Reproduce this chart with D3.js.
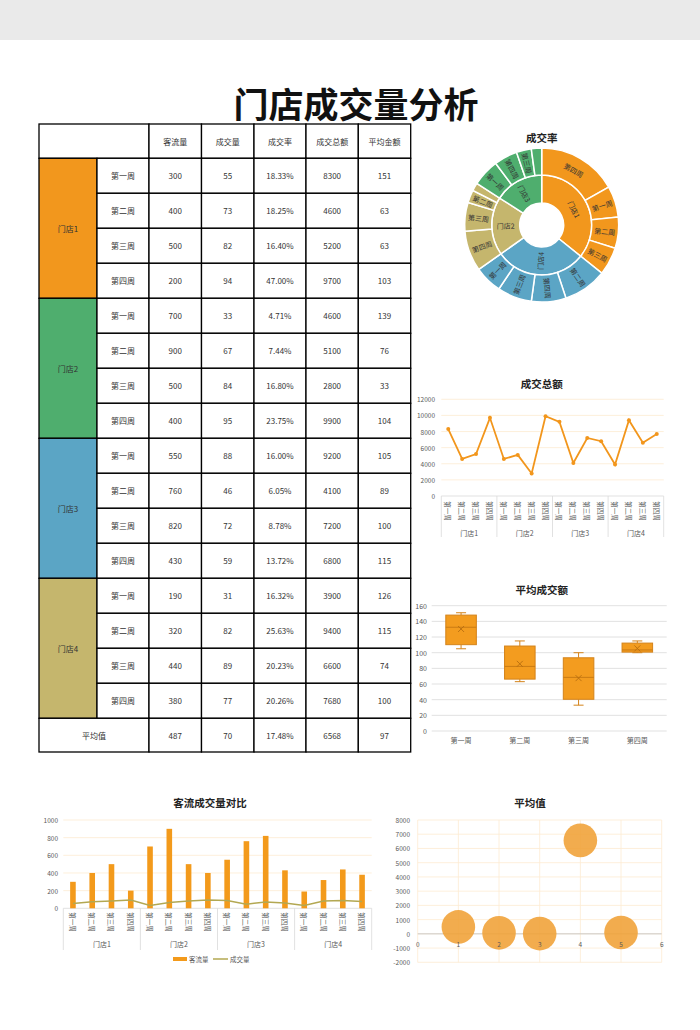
<!DOCTYPE html>
<html><head><meta charset="utf-8">
<script src="https://cdn.jsdelivr.net/npm/d3@7"></script>
<style>
body{margin:0;background:#fff;}
svg{display:block;font-family:"Noto Sans CJK SC","Noto Sans",sans-serif;}
</style></head><body>
<svg id="c" width="700" height="1030"></svg>
<script>
// ---------- DATA ----------
const pageTitle = "门店成交量分析";
const stores = ["门店1","门店2","门店3","门店4"];
const weeks = ["第一周","第二周","第三周","第四周"];
const headers = ["客流量","成交量","成交率","成交总额","平均金额"];
const traffic = [300,400,500,200,700,900,500,400,550,760,820,430,190,320,440,380];
const deals = [55,73,82,94,33,67,84,95,88,46,72,59,31,82,89,77];
const rates = [18.33,18.25,16.40,47.00,4.71,7.44,16.80,23.75,16.00,6.05,8.78,13.72,16.32,25.63,20.23,20.26];
const totals = [8300,4600,5200,9700,4600,5100,2800,9900,9200,4100,7200,6800,3900,9400,6600,7680];
const avgAmount = [151,63,63,103,139,76,33,104,105,89,100,115,126,115,74,100];
const avgLabel = "平均值";
const averages = [487,70,17.48,6568,97];
const bubbleX = [1,2,3,4,5];
const bubbleSize = [1,1,1,1,1];
const titles = {sun:"成交率", line:"成交总额", box:"平均成交额", bar:"客流成交量对比", bubble:"平均值"};
const legendNames = ["客流量","成交量"];
const lineTicks = [0,2000,4000,6000,8000,10000,12000];
const boxTicks = [0,20,40,60,80,100,120,140,160];
const barTicks = [0,200,400,600,800,1000];
const bubbleYTicks = [-2000,-1000,0,1000,2000,3000,4000,5000,6000,7000,8000];
const bubbleXTicks = [0,1,2,3,4,5,6];

// ---------- STYLE ----------
const storeColors = ["#f2971d","#4fae6e","#5ba5c5","#c5b66d"];
const sunPalette = ["#f2971d","#5ba5c5","#c5b66d","#4fae6e"];
const orange = "#f2961c";
const olive = "#b3a852";
const cream = "#fcebd2";
const axisText = "#595959";

const svg = d3.select("#c");
svg.append("rect").attr("width",700).attr("height",40).attr("fill","#eaeaea");
svg.append("text").attr("x",356).attr("y",102).attr("text-anchor","middle")
  .attr("dominant-baseline","central").attr("font-size",35).attr("font-weight",700)
  .attr("fill","#111").text(pageTitle);

// ---------- TABLE ----------
const colEdges = [39,97,149,201.5,254,306,358.3,410.7];
const yRow = d3.scaleLinear().domain([0,16]).range([158.3,718.3]);
const tTop = 124, tBottom = 752;
const tg = svg.append("g");
function cell(x0,x1,y0,y1,txt,fill){
  tg.append("rect").attr("x",x0).attr("y",y0).attr("width",x1-x0).attr("height",y1-y0)
    .attr("fill",fill||"#fff").attr("stroke","#000").attr("stroke-width",1.3);
  if(txt!==undefined && txt!==null && txt!=="")
    tg.append("text").attr("x",(x0+x1)/2).attr("y",(y0+y1)/2).attr("text-anchor","middle")
      .attr("dominant-baseline","central").attr("font-size",8).attr("fill","#333").text(txt);
}
const fmt = (j,v)=> j===2 ? v.toFixed(2)+"%" : String(v);
cell(colEdges[0],colEdges[2],tTop,yRow(0),"");
headers.forEach((h,j)=>cell(colEdges[j+2],colEdges[j+3],tTop,yRow(0),h));
stores.forEach((s,i)=>cell(colEdges[0],colEdges[1],yRow(i*4),yRow(i*4+4),s,storeColors[i]));
d3.range(16).forEach(r=>{
  cell(colEdges[1],colEdges[2],yRow(r),yRow(r+1),weeks[r%4]);
  const vals=[traffic[r],deals[r],rates[r],totals[r],avgAmount[r]];
  vals.forEach((v,j)=>cell(colEdges[j+2],colEdges[j+3],yRow(r),yRow(r+1),fmt(j,v)));
});
cell(colEdges[0],colEdges[2],yRow(16),tBottom,avgLabel);
averages.forEach((v,j)=>cell(colEdges[j+2],colEdges[j+3],yRow(16),tBottom,fmt(j,v)));

function chartTitle(x,y,t){
  svg.append("text").attr("x",x).attr("y",y).attr("text-anchor","middle")
    .attr("dominant-baseline","central").attr("font-size",10.5).attr("font-weight",700)
    .attr("fill","#222").text(t);
}

// ---------- SUNBURST ----------
chartTitle(541.7,137,titles.sun);
const sbData = {name:"root", children: stores.map((s,i)=>({name:s,
  children: weeks.map((w,j)=>({name:w, value:rates[i*4+j]}))}))};
const root = d3.hierarchy(sbData).sum(d=>d.value||0).sort((a,b)=>b.value-a.value);
d3.partition().size([2*Math.PI,3])(root);
root.children.forEach((c,k)=>{ c.each(n=>{ n.col = sunPalette[k]; }); });
const rS = d3.scaleLinear().domain([1,2,3]).range([22,50,77]);
const arcG = d3.arc().startAngle(d=>d.x0).endAngle(d=>d.x1)
  .innerRadius(d=>rS(d.y0)).outerRadius(d=>rS(d.y1));
const sg = svg.append("g").attr("transform","translate(541.7,225)");
const nodes = root.descendants().filter(d=>d.depth>0);
sg.selectAll("path").data(nodes).join("path").attr("d",arcG)
  .attr("fill",d=>d.col).attr("stroke","#fff").attr("stroke-width",1.5);
function norm(a){ while(a>90)a-=180; while(a<=-90)a+=180; return a; }
nodes.forEach(d=>{
  const ang = d.x1-d.x0;
  const rm = (rS(d.y0)+rS(d.y1))/2;
  if(ang*rm < 9.5) return;
  const a = (d.x0+d.x1)/2;
  const deg = a*180/Math.PI;
  const tang = d.depth===2 ? ang>0.9 : ang>2.0;
  const rot = norm(tang ? deg : deg-90);
  const x = rm*Math.sin(a), y = -rm*Math.cos(a);
  sg.append("text").attr("transform",`translate(${x},${y}) rotate(${rot})`)
    .attr("text-anchor","middle").attr("dominant-baseline","central")
    .attr("font-size",7).attr("fill","#333").text(d.data.name);
});

// ---------- helpers for two-level category axis ----------
function catAxis(g,xs,yAxis,weekY,groupY,sepBottom){
  d3.range(16).forEach(k=>{
    const cx = xs(k)+xs.bandwidth()/2;
    g.append("text").attr("transform",`translate(${cx},${weekY}) rotate(90)`)
      .attr("text-anchor","middle").attr("dominant-baseline","central")
      .attr("font-size",6.5).attr("fill",axisText).text(weeks[k%4]);
  });
  stores.forEach((s,i)=>{
    const x0 = xs(i*4), x1 = xs(i*4+3)+xs.bandwidth();
    g.append("text").attr("x",(x0+x1)/2).attr("y",groupY).attr("text-anchor","middle")
      .attr("dominant-baseline","central").attr("font-size",7).attr("fill",axisText).text(s);
  });
  d3.range(5).forEach(i=>{
    const x = i<4 ? xs(i*4) : xs(15)+xs.bandwidth();
    g.append("line").attr("x1",x).attr("x2",x).attr("y1",yAxis).attr("y2",sepBottom)
      .attr("stroke","#d9d9d9").attr("stroke-width",0.8);
  });
}

// ---------- LINE CHART ----------
chartTitle(541.7,383,titles.line);
const lg = svg.append("g");
const lx = d3.scaleBand().domain(d3.range(16)).range([441.3,663.7]);
const ly = d3.scaleLinear().domain([0,12000]).range([496,399.3]);
lineTicks.forEach(t=>{
  lg.append("line").attr("x1",441.3).attr("x2",663.7).attr("y1",ly(t)).attr("y2",ly(t))
    .attr("stroke",t===0?"#d9d9d9":cream).attr("stroke-width",0.8);
  lg.append("text").attr("x",435).attr("y",ly(t)).attr("text-anchor","end")
    .attr("dominant-baseline","central").attr("font-size",6.5).attr("fill",axisText).text(t);
});
catAxis(lg,lx,496,511,533,537);
const lineGen = d3.line().x((d,i)=>lx(i)+lx.bandwidth()/2).y(d=>ly(d));
lg.append("path").attr("d",lineGen(totals)).attr("fill","none").attr("stroke",orange).attr("stroke-width",1.8);
lg.selectAll("circle").data(totals).join("circle").attr("cx",(d,i)=>lx(i)+lx.bandwidth()/2)
  .attr("cy",d=>ly(d)).attr("r",2).attr("fill",orange);

// ---------- BOX PLOT ----------
chartTitle(541.7,589,titles.box);
const bg = svg.append("g");
const bx = d3.scaleBand().domain(weeks).range([431.7,666.7]);
const by = d3.scaleLinear().domain([0,160]).range([731,605.7]);
boxTicks.forEach(t=>{
  bg.append("line").attr("x1",431.7).attr("x2",666.7).attr("y1",by(t)).attr("y2",by(t))
    .attr("stroke","#d9d9d9").attr("stroke-width",0.8);
  bg.append("text").attr("x",427).attr("y",by(t)).attr("text-anchor","end")
    .attr("dominant-baseline","central").attr("font-size",7).attr("fill",axisText).text(t);
});
function qEx(s,p){ const n=s.length, pos=(n+1)*p, lo=Math.floor(pos), f=pos-lo;
  if(lo<1) return s[0]; if(lo>=n) return s[n-1]; return s[lo-1]+f*(s[lo]-s[lo-1]); }
weeks.forEach((w,j)=>{
  const vals = stores.map((s,i)=>avgAmount[i*4+j]).sort((a,b)=>a-b);
  const q1=qEx(vals,0.25), med=qEx(vals,0.5), q3=qEx(vals,0.75), mn=vals[0], mx=vals[vals.length-1], mean=d3.mean(vals);
  const cx = bx(w)+bx.bandwidth()/2, bw = bx.bandwidth()*0.52;
  const st="#d4831a";
  bg.append("line").attr("x1",cx).attr("x2",cx).attr("y1",by(mx)).attr("y2",by(q3)).attr("stroke",st).attr("stroke-width",1);
  bg.append("line").attr("x1",cx).attr("x2",cx).attr("y1",by(mn)).attr("y2",by(q1)).attr("stroke",st).attr("stroke-width",1);
  [mn,mx].forEach(v=>bg.append("line").attr("x1",cx-5).attr("x2",cx+5).attr("y1",by(v)).attr("y2",by(v)).attr("stroke",st).attr("stroke-width",1));
  bg.append("rect").attr("x",cx-bw/2).attr("y",by(q3)).attr("width",bw).attr("height",by(q1)-by(q3))
    .attr("fill","#f39c1f").attr("stroke",st).attr("stroke-width",1);
  bg.append("line").attr("x1",cx-bw/2).attr("x2",cx+bw/2).attr("y1",by(med)).attr("y2",by(med)).attr("stroke","#c97a14").attr("stroke-width",1);
  const my=by(mean);
  bg.append("path").attr("d",`M${cx-3},${my-3}L${cx+3},${my+3}M${cx-3},${my+3}L${cx+3},${my-3}`)
    .attr("stroke","#b86e10").attr("stroke-width",0.9);
  bg.append("text").attr("x",cx).attr("y",740).attr("text-anchor","middle")
    .attr("dominant-baseline","central").attr("font-size",7).attr("fill",axisText).text(w);
});

// ---------- BAR + LINE CHART ----------
chartTitle(210,802,titles.bar);
const cg = svg.append("g");
const cx = d3.scaleBand().domain(d3.range(16)).range([63.3,371.7]);
const cy = d3.scaleLinear().domain([0,1000]).range([908.3,820]);
barTicks.forEach(t=>{
  cg.append("line").attr("x1",63.3).attr("x2",371.7).attr("y1",cy(t)).attr("y2",cy(t))
    .attr("stroke",t===0?"#d9d9d9":cream).attr("stroke-width",0.8);
  cg.append("text").attr("x",58).attr("y",cy(t)).attr("text-anchor","end")
    .attr("dominant-baseline","central").attr("font-size",6.5).attr("fill",axisText).text(t);
});
cg.selectAll("rect.bar").data(traffic).join("rect").attr("class","bar")
  .attr("x",(d,i)=>cx(i)+cx.bandwidth()/2-2.8).attr("width",5.6)
  .attr("y",d=>cy(d)).attr("height",d=>cy(0)-cy(d)).attr("fill","#f39a1b");
const dealLine = d3.line().x((d,i)=>cx(i)+cx.bandwidth()/2).y(d=>cy(d));
cg.append("path").attr("d",dealLine(deals)).attr("fill","none").attr("stroke",olive).attr("stroke-width",1.5);
catAxis(cg,cx,908.3,922,944,950);
// legend
cg.append("rect").attr("x",173).attr("y",957).attr("width",14).attr("height",4).attr("fill","#f39a1b");
cg.append("text").attr("x",189).attr("y",959).attr("dominant-baseline","central").attr("font-size",6.5).attr("fill",axisText).text(legendNames[0]);
cg.append("line").attr("x1",213).attr("x2",228).attr("y1",959).attr("y2",959).attr("stroke",olive).attr("stroke-width",1.5);
cg.append("text").attr("x",230).attr("y",959).attr("dominant-baseline","central").attr("font-size",6.5).attr("fill",axisText).text(legendNames[1]);

// ---------- BUBBLE CHART ----------
chartTitle(530,802,titles.bubble);
const ug = svg.append("g");
const ux = d3.scaleLinear().domain([0,6]).range([417.7,661.7]);
const uy = d3.scaleLinear().domain([-2000,8000]).range([962.3,820]);
const ur = d3.scaleSqrt().domain([0,1]).range([0,16.8]);
bubbleYTicks.forEach(t=>{
  ug.append("line").attr("x1",ux(0)).attr("x2",ux(6)).attr("y1",uy(t)).attr("y2",uy(t))
    .attr("stroke",cream).attr("stroke-width",0.8);
  ug.append("text").attr("x",410).attr("y",uy(t)).attr("text-anchor","end")
    .attr("dominant-baseline","central").attr("font-size",6.5).attr("fill",axisText).text(t);
});
bubbleXTicks.forEach(t=>{
  ug.append("line").attr("x1",ux(t)).attr("x2",ux(t)).attr("y1",uy(8000)).attr("y2",uy(-2000))
    .attr("stroke",cream).attr("stroke-width",0.8);
});
ug.append("line").attr("x1",ux(0)).attr("x2",ux(6)).attr("y1",uy(0)).attr("y2",uy(0))
  .attr("stroke","#bfbfbf").attr("stroke-width",0.8);
ug.selectAll("circle").data(averages).join("circle")
  .attr("cx",(d,i)=>ux(bubbleX[i])).attr("cy",d=>uy(d)).attr("r",(d,i)=>ur(bubbleSize[i]))
  .attr("fill","#f0a035").attr("fill-opacity",0.88);
bubbleXTicks.forEach(t=>{
  ug.append("text").attr("x",ux(t)).attr("y",944).attr("text-anchor","middle")
    .attr("dominant-baseline","central").attr("font-size",6.5).attr("fill",axisText).text(t);
});
</script></body></html>
